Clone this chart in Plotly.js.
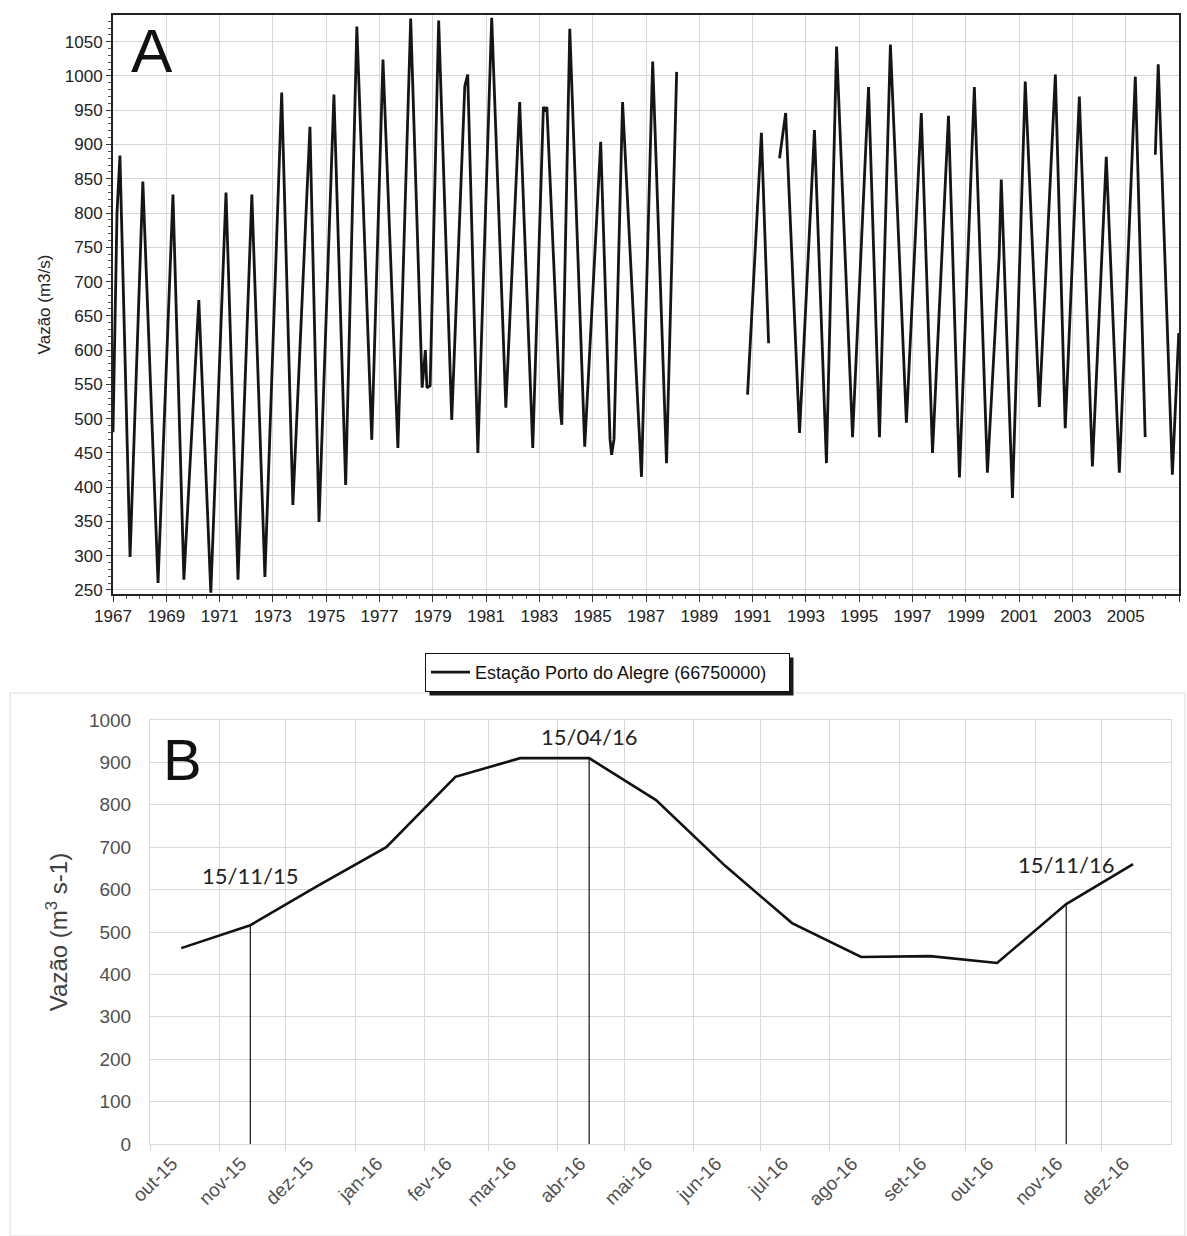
<!DOCTYPE html>
<html>
<head>
<meta charset="utf-8">
<script src="https://cdn.plot.ly/plotly-3.0.1.min.js"></script>
<style>
  html, body { margin: 0; padding: 0; background: #ffffff; }
  #chart { width: 1187px; height: 1236px; }
</style>
</head>
<body>
<div id="chart"></div>
<script>
// ---------- Panel A: daily flow series (peaks, troughs, shoulders) ----------
const yearA = [
  1967.00, 1967.15, 1967.26, 1967.64, 1968.12, 1968.69, 1969.25, 1969.66, 1970.22, 1970.67,
  1971.24, 1971.69, 1972.21, 1972.70, 1973.33, 1973.75, 1974.39, 1974.73, 1975.29, 1975.73,
  1976.15, 1976.71, 1977.13, 1977.69, 1978.17, 1978.60, 1978.72, 1978.78, 1978.90, 1979.22,
  1979.71, 1980.20, 1980.31, 1980.69, 1981.21, 1981.74, 1982.26, 1982.75, 1983.15, 1983.22,
  1983.28, 1983.78, 1983.84, 1984.14, 1984.70, 1985.30, 1985.65, 1985.71, 1985.80, 1986.12,
  1986.83, 1987.25, 1987.77, 1988.15, 1989.50,
  1990.81, 1991.33, 1991.60, 1991.80,
  1992.01, 1992.24, 1992.76, 1993.32, 1993.77, 1994.15, 1994.75, 1995.35, 1995.76, 1996.17,
  1996.77, 1997.33, 1997.75, 1998.35, 1998.76, 1999.32, 1999.81, 2000.25, 2000.33, 2000.75,
  2001.23, 2001.76, 2002.36, 2002.73, 2003.26, 2003.75, 2004.27, 2004.76, 2005.36, 2005.73,
  2005.90,
  2006.11, 2006.22, 2006.75, 2006.99
];
const flowA = [
  480, 800, 884, 298, 846, 260, 827, 265, 673, 246,
  830, 265, 827, 269, 976, 374, 926, 349, 973, 403,
  1072, 469, 1024, 457, 1084, 545, 600, 545, 548, 1081,
  498, 985, 1002, 450, 1085, 516, 962, 457, 955, 948,
  955, 513, 491, 1069, 459, 904, 470, 447, 470, 962,
  415, 1021, 435, 1006, null,
  535, 917, 610, null,
  880, 946, 479, 921, 435, 1043, 473, 984, 473, 1046,
  494, 946, 450, 942, 414, 984, 421, 736, 849, 384,
  992, 517, 1002, 486, 970, 430, 882, 421, 999, 473,
  null,
  885, 1017, 418, 625
];
const seriesNameA = 'Estação Porto do Alegre (66750000)';

// ---------- Panel B: monthly flow (15th of each month) ----------
const datesB = [
  '2015-10-15', '2015-11-15', '2015-12-15', '2016-01-15', '2016-02-15', '2016-03-15', '2016-04-15',
  '2016-05-15', '2016-06-15', '2016-07-15', '2016-08-15', '2016-09-15', '2016-10-15', '2016-11-15',
  '2016-12-15'
];
const flowB = [462, 516, 608, 700, 866, 910, 910, 811, 656, 521, 441, 443, 427, 566, 660];
const monthTickDates = [
  '2015-10-01', '2015-11-01', '2015-12-01', '2016-01-01', '2016-02-01', '2016-03-01', '2016-04-01',
  '2016-05-01', '2016-06-01', '2016-07-01', '2016-08-01', '2016-09-01', '2016-10-01', '2016-11-01',
  '2016-12-01'
];
const monthTickLabels = [
  'out-15', 'nov-15', 'dez-15', 'jan-16', 'fev-16', 'mar-16', 'abr-16',
  'mai-16', 'jun-16', 'jul-16', 'ago-16', 'set-16', 'out-16', 'nov-16', 'dez-16'
];
const markedDates = ['2015-11-15', '2016-04-15', '2016-11-15'];
const markedLabels = ['15/11/15', '15/04/16', '15/11/16'];

// ---------- build traces ----------
const W = 1187, H = 1236;
const px = v => v / W;
const py = v => 1 - v / H;

const traceA = {
  x: yearA, y: flowA, type: 'scatter', mode: 'lines', name: seriesNameA,
  connectgaps: false,
  line: { color: '#151515', width: 2.8 },
  xaxis: 'x', yaxis: 'y', showlegend: true, hoverinfo: 'x+y'
};

const traceB = {
  x: datesB, y: flowB, type: 'scatter', mode: 'lines', name: 'Vazão',
  line: { color: '#111111', width: 2.6 },
  xaxis: 'x2', yaxis: 'y2', showlegend: false
};

const dropX = [], dropY = [];
markedDates.forEach(d => {
  const v = flowB[datesB.indexOf(d)];
  dropX.push(d, d, null);
  dropY.push(0, v, null);
});
const traceDrops = {
  x: dropX, y: dropY, type: 'scatter', mode: 'lines',
  line: { color: '#111111', width: 1.2 },
  xaxis: 'x2', yaxis: 'y2', showlegend: false, hoverinfo: 'skip'
};

const labelShift = [34, 6, 24];
const annotations = [
  { xref: 'paper', yref: 'paper', x: px(129), y: py(14), xanchor: 'left', yanchor: 'top',
    text: 'A', showarrow: false, font: { family: 'Liberation Sans, Arial, sans-serif', size: 62, color: '#111' } },
  { xref: 'paper', yref: 'paper', x: px(161), y: py(725), xanchor: 'left', yanchor: 'top',
    text: 'B', showarrow: false, font: { family: 'Liberation Sans, Arial, sans-serif', size: 58, color: '#111' } }
];
markedDates.forEach((d, i) => {
  annotations.push({
    xref: 'x2', yref: 'y2', x: d, y: flowB[datesB.indexOf(d)],
    xanchor: 'center', yanchor: 'bottom', yshift: labelShift[i], showarrow: false,
    text: markedLabels[i],
    font: { family: 'Lato, Open Sans, sans-serif', size: 22, color: '#222' }
  });
});

const shapes = [
  { type: 'rect', xref: 'paper', yref: 'paper', x0: px(10), x1: px(1185), y0: py(1236), y1: py(693),
    line: { color: '#dcdcdc', width: 1 }, fillcolor: 'rgba(0,0,0,0)', layer: 'below' }
];

const layout = {
  width: W, height: H,
  margin: { l: 0, r: 0, t: 0, b: 0 },
  paper_bgcolor: '#ffffff', plot_bgcolor: '#ffffff',
  font: { family: 'Liberation Sans, Arial, sans-serif', color: '#222' },
  showlegend: true,
  legend: {
    x: px(425), y: py(653), xanchor: 'left', yanchor: 'top',
    orientation: 'h', entrywidth: 309, entrywidthmode: 'pixels',
    bgcolor: '#ffffff', bordercolor: '#111', borderwidth: 1,
    font: { size: 18, color: '#111' }, itemwidth: 39
  },
  xaxis: {
    domain: [px(113), px(1179)], anchor: 'y', range: [1967, 2006.999],
    tickmode: 'linear', tick0: 1967, dtick: 2, tickformat: 'd',
    ticks: 'outside', ticklen: 6, tickcolor: '#333', tickwidth: 1,
    showgrid: true, gridcolor: '#d6d6d6', gridwidth: 1,
    showline: true, linecolor: '#222', linewidth: 2, mirror: true, zeroline: false,
    tickfont: { size: 17, color: '#222' },
    minor: { tick0: 1967, dtick: 0.5, ticks: 'outside', ticklen: 3, tickcolor: '#555', showgrid: false }
  },
  yaxis: {
    domain: [py(594), py(15)], anchor: 'x', range: [244, 1089],
    tickmode: 'linear', tick0: 250, dtick: 50,
    ticks: 'outside', ticklen: 5, tickcolor: '#333',
    showgrid: true, gridcolor: '#d6d6d6', gridwidth: 1,
    showline: true, linecolor: '#222', linewidth: 2, mirror: true, zeroline: false,
    tickfont: { size: 17, color: '#222' },
    minor: { tick0: 250, dtick: 10, ticks: 'outside', ticklen: 3, tickcolor: '#555', showgrid: false },
    title: { text: 'Vazão (m3/s)', font: { size: 17, color: '#222' }, standoff: 10 }
  },
  xaxis2: {
    domain: [px(150), px(1171)], anchor: 'y2', type: 'date',
    range: ['2015-10-01', '2017-01-01'],
    tickmode: 'array', tickvals: monthTickDates, ticktext: monthTickLabels,
    tickangle: -45, ticklabelshift: 22, ticklabelstandoff: -6,
    ticks: 'outside', ticklen: 6, tickcolor: '#d6d6d6',
    showgrid: true, gridcolor: '#d9d9d9', gridwidth: 1,
    showline: true, linecolor: '#d9d9d9', mirror: true, zeroline: false,
    tickfont: { size: 19, color: '#505050' }
  },
  yaxis2: {
    domain: [py(1144), py(720)], anchor: 'x2', range: [0, 1000],
    tickmode: 'linear', tick0: 0, dtick: 100,
    ticks: '', ticklabelstandoff: 14,
    showgrid: true, gridcolor: '#d9d9d9', gridwidth: 1,
    showline: true, linecolor: '#d9d9d9', mirror: true, zeroline: false,
    tickfont: { size: 19, color: '#505050' },
    title: { text: 'Vazão (m<sup>3</sup> s-1)', font: { size: 24, color: '#404040' }, standoff: 14 }
  },
  annotations: annotations,
  shapes: shapes
};

Plotly.newPlot('chart', [traceA, traceB, traceDrops], layout, { staticPlot: true, displayModeBar: false })
  .then(gd => {
    const bg = gd.querySelector('.legend .bg');
    if (!bg) return;
    const r = bg.getBoundingClientRect();
    const p = gd.getBoundingClientRect();
    const off = 4;
    const shadow = {
      type: 'rect', xref: 'paper', yref: 'paper',
      x0: (r.left - p.left + off) / W, x1: (r.right - p.left + off) / W,
      y0: 1 - (r.bottom - p.top + off) / H, y1: 1 - (r.top - p.top + off) / H,
      line: { width: 0 }, fillcolor: '#1a1a1a', layer: 'above'
    };
    return Plotly.relayout(gd, { shapes: shapes.concat([shadow]) });
  });
</script>
</body>
</html>
